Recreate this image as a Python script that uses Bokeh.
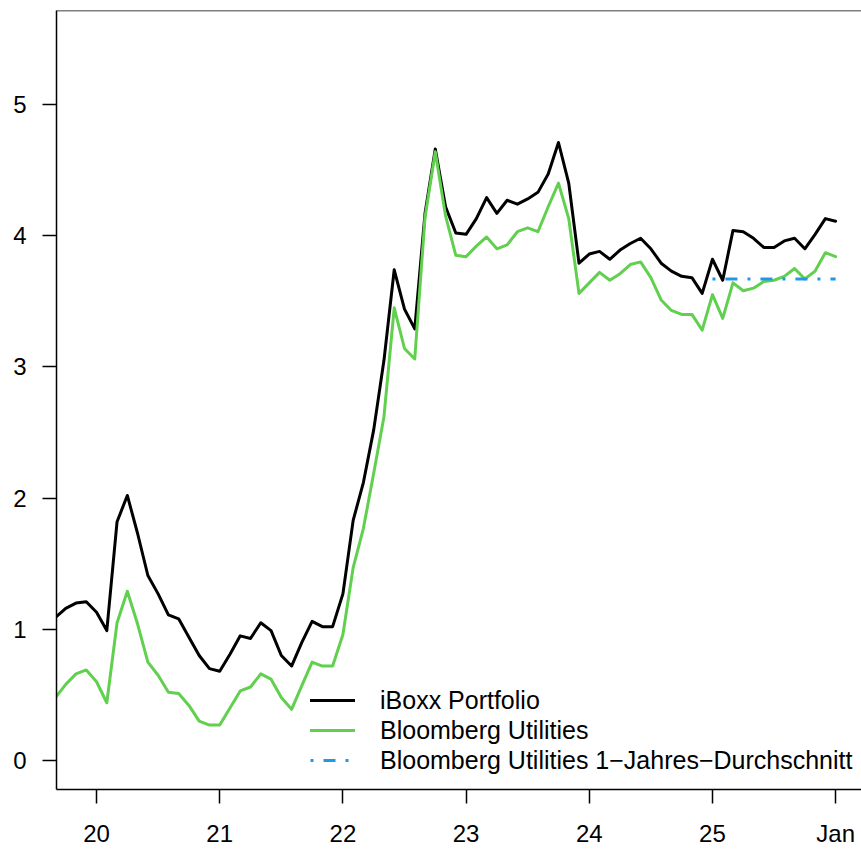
import pandas as pd
from bokeh.plotting import figure
from bokeh.models import Range1d, FixedTicker, Legend, LegendItem, Span
from bokeh.embed import file_html
from bokeh.resources import INLINE

# ---- data (monthly, Sep 2019 .. Jan 2026) ----
months = pd.date_range("2019-09-01", "2026-01-01", freq="MS")

iboxx = [
    1.09, 1.16, 1.20, 1.21,
    1.13, 0.99, 1.82, 2.02, 1.73, 1.41, 1.27, 1.11, 1.08, 0.94, 0.80, 0.70,
    0.68, 0.81, 0.95, 0.93, 1.05, 0.99, 0.80, 0.72, 0.90, 1.06, 1.02, 1.02,
    1.27, 1.83, 2.12, 2.52, 3.05, 3.74, 3.44, 3.29, 4.17, 4.66, 4.22, 4.02,
    4.01, 4.13, 4.29, 4.17, 4.27, 4.24, 4.28, 4.33, 4.47, 4.71, 4.40, 3.79,
    3.86, 3.88, 3.82, 3.89, 3.94, 3.98, 3.90, 3.79, 3.73, 3.69, 3.68, 3.56,
    3.82, 3.66, 4.04, 4.03, 3.98, 3.91, 3.91, 3.96, 3.98, 3.90, 4.01, 4.13,
    4.11,
]

bloomberg = [
    0.48, 0.58, 0.66, 0.69,
    0.60, 0.44, 1.05, 1.29, 1.04, 0.75, 0.65, 0.52, 0.51, 0.42, 0.30, 0.27,
    0.27, 0.40, 0.53, 0.56, 0.66, 0.62, 0.48, 0.39, 0.57, 0.75, 0.72, 0.72,
    0.96, 1.47, 1.77, 2.19, 2.62, 3.45, 3.14, 3.06, 4.14, 4.64, 4.15, 3.85,
    3.84, 3.92, 3.99, 3.90, 3.93, 4.03, 4.06, 4.03, 4.22, 4.40, 4.13, 3.56,
    3.64, 3.72, 3.66, 3.71, 3.78, 3.80, 3.68, 3.51, 3.43, 3.40, 3.40, 3.28,
    3.55, 3.37, 3.64, 3.58, 3.60, 3.65, 3.66, 3.69, 3.75, 3.67, 3.73, 3.87,
    3.84,
]

avg_dates = pd.to_datetime(["2025-01-01", "2026-01-01"])
avg_values = [3.67, 3.67]

x_ticks = [20, 21, 22, 23, 24, 25, 26]
x_tick_labels = ["20", "21", "22", "23", "24", "25", "Jan"]
y_ticks = [0, 1, 2, 3, 4, 5]

labels = ["iBoxx Portfolio", "Bloomberg Utilities",
          "Bloomberg Utilities 1\u2212Jahres\u2212Durchschnitt"]


def frac_year(d):
    return list((d.year - 2000) + (d.month - 1) / 12.0)


x = frac_year(months)
x_avg = frac_year(avg_dates)

FONT = "Liberation Sans"
Y_TOP = 5.716

p = figure(width=861, height=852, output_backend="svg", toolbar_location=None,
           x_range=Range1d(19.675, 26.21), y_range=Range1d(-0.221, Y_TOP),
           min_border_left=56, min_border_right=0, min_border_top=10,
           min_border_bottom=63)
p.outline_line_color = None
p.xgrid.visible = False
p.ygrid.visible = False
p.background_fill_color = "white"
p.border_fill_color = "white"

r1 = p.line(x, iboxx, line_color="black", line_width=3, line_join="round", line_cap="round")
r2 = p.line(x, bloomberg, line_color="#61D04F", line_width=3, line_join="round", line_cap="round")
r3 = p.line(x_avg, avg_values, line_color="#2297E6", line_width=3, line_dash="3 10 12 10")

p.add_layout(Span(location=Y_TOP, dimension="width", line_color="black", line_width=1.5))

for ax in (p.xaxis[0], p.yaxis[0]):
    ax.axis_line_color = "black"
    ax.axis_line_width = 1.5
    ax.major_tick_line_color = "black"
    ax.major_tick_line_width = 1.5
    ax.major_tick_out = 14
    ax.major_tick_in = 0
    ax.minor_tick_line_color = None
    ax.major_label_text_font = FONT
    ax.major_label_text_font_size = "24px"
    ax.major_label_text_color = "black"

p.xaxis[0].ticker = FixedTicker(ticks=x_ticks)
p.xaxis[0].major_label_overrides = {t: l for t, l in zip(x_ticks, x_tick_labels)}
p.xaxis[0].major_label_standoff = 16
p.yaxis[0].ticker = FixedTicker(ticks=y_ticks)
p.yaxis[0].major_label_standoff = 16

legend = Legend(items=[LegendItem(label=labels[0], renderers=[r1]),
                       LegendItem(label=labels[1], renderers=[r2]),
                       LegendItem(label=labels[2], renderers=[r3])],
                location=(254, 14), glyph_width=45, glyph_height=30,
                label_height=30, label_standoff=25, spacing=0, padding=0,
                margin=0, border_line_color=None, background_fill_alpha=0,
                label_text_font=FONT, label_text_font_size="25px",
                label_text_color="black")
p.add_layout(legend)

open("out.html", "w").write(file_html(p, INLINE))
